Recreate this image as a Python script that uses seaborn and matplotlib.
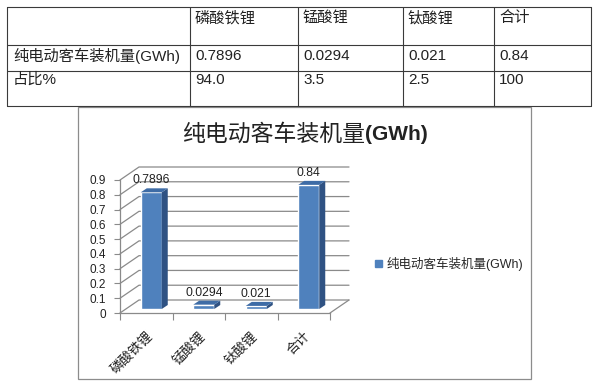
import numpy as np
import pandas as pd
import seaborn as sns
import matplotlib.pyplot as plt
import matplotlib.transforms as mtransforms
from matplotlib.lines import Line2D
from matplotlib.patches import Polygon, Rectangle, Patch

# data
categories = ['磷酸铁锂', '锰酸锂', '钛酸锂', '合计']
capacity = [0.7896, 0.0294, 0.021, 0.84]
share_labels = ['94.0', '3.5', '2.5', '100']
series_name = '纯电动客车装机量(GWh)'
row_names = ['纯电动客车装机量(GWh)', '占比%']
title_main = '纯电动客车装机量'
title_unit = '(GWh)'
yticks = [0, 0.1, 0.2, 0.3, 0.4, 0.5, 0.6, 0.7, 0.8, 0.9]

W, H = 600, 386
FRONT = '#4f81bd'
SIDE = '#2f5283'
TOP = '#3e6ca6'
GRID = '#8a8a8a'

sns.set_theme(style='white')
plt.rcParams['font.family'] = ['Liberation Sans', 'Noto Sans CJK SC']


def fy(y):
    return 1 - y / H


fig = plt.figure(figsize=(6, 3.86), dpi=100)

# ---- table at the top ----
col_x = [7, 190, 298, 403, 494, 591]
row_y = [7, 45, 71, 106]
for y in row_y:
    fig.add_artist(Line2D([col_x[0] / W, col_x[-1] / W], [fy(y), fy(y)],
                          transform=fig.transFigure, color='#3a3a3a', lw=0.8))
for x in col_x:
    fig.add_artist(Line2D([x / W, x / W], [fy(row_y[0]), fy(row_y[-1])],
                          transform=fig.transFigure, color='#3a3a3a', lw=0.8))

text_y = [18, 56, 80]
tkw = dict(fontsize=11, va='center', ha='left', color='#222222')
for i, c in enumerate(categories):
    fig.text((col_x[i + 1] + 5) / W, fy(text_y[0]), c, **tkw)
    fig.text((col_x[i + 1] + 5) / W, fy(text_y[1]), f"{capacity[i]:g}", **tkw)
    fig.text((col_x[i + 1] + 5) / W, fy(text_y[2]), share_labels[i], **tkw)
fig.text(13 / W, fy(text_y[1]), row_names[0], **tkw)
fig.text(13 / W, fy(text_y[2]), row_names[1], **tkw)

# ---- chart frame ----
fig.add_artist(Rectangle((78 / W, fy(379)), (531 - 78) / W, (379 - 107) / H,
                         transform=fig.transFigure, fill=False,
                         edgecolor='#8c8c8c', lw=0.9))

fig.text(365 / W, fy(134), title_main, ha='right', va='center', fontsize=16.5,
         color='#222222')
fig.text(365 / W, fy(134), title_unit, ha='left', va='center', fontsize=15,
         weight='bold', color='#222222')

# ---- bar chart with a pseudo-3D look ----
ax = fig.add_axes([120 / W, fy(313), 210 / W, 133 / H])
ax.patch.set_alpha(0)
df = pd.DataFrame({'cat': categories, 'val': capacity})
sns.barplot(data=df, x='cat', y='val', ax=ax, color=FRONT, saturation=1,
            width=0.4, errorbar=None, zorder=2)
ax.set_xlim(-0.5, len(categories) - 0.5)
ax.set_ylim(0, 0.9)
ax.set_xlabel('')
ax.set_ylabel('')

for s in ['top', 'right']:
    ax.spines[s].set_visible(False)
for s in ['left', 'bottom']:
    ax.spines[s].set_color(GRID)
    ax.spines[s].set_linewidth(0.9)

ax.set_yticks(yticks)
ax.set_yticklabels([f"{v:g}" for v in yticks], fontsize=8.5, color='#222222')
ax.tick_params(axis='y', left=True, length=4, width=0.8, color=GRID, pad=6)
ax.set_xticks(range(len(categories)))
ax.set_xticklabels(categories, rotation=45, ha='right', rotation_mode='anchor',
                   fontsize=9.5, color='#222222')
ax.set_xticks(np.arange(-0.5, len(categories)), minor=True)
ax.tick_params(axis='x', which='major', length=0, pad=12)
ax.tick_params(axis='x', which='minor', bottom=True, length=5, width=0.8,
               color=GRID)

ident = mtransforms.IdentityTransform()
dx, dy = 19, 13
x_lo, x_hi = ax.get_xlim()
for v in yticks:
    p0 = ax.transData.transform((x_lo, v))
    p1 = ax.transData.transform((x_hi, v))
    xs = [p0[0], p0[0] + dx, p1[0] + dx]
    ys = [p0[1], p0[1] + dy, p1[1] + dy]
    ax.add_line(Line2D(xs, ys, transform=ident, color=GRID, lw=0.9,
                       clip_on=False, zorder=0.5))
p1 = ax.transData.transform((x_hi, 0))
ax.add_line(Line2D([p1[0], p1[0] + dx], [p1[1], p1[1] + dy], transform=ident,
                   color=GRID, lw=0.9, clip_on=False, zorder=0.5))

bar_trans = mtransforms.offset_copy(ax.transData, fig=fig, x=5, y=4, units='dots')
bdx, bdy = 6, 4
for p, v in zip(ax.patches, capacity):
    p.set_transform(bar_trans)
    p.set_clip_on(False)
    x0, w, h = p.get_x(), p.get_width(), p.get_height()
    b = bar_trans.transform((x0 + w, 0))
    c = bar_trans.transform((x0 + w, h))
    d = bar_trans.transform((x0, h))
    side = [b, c, c + (bdx, bdy), b + (bdx, bdy)]
    top = [d, c, c + (bdx, bdy), d + (bdx, bdy)]
    ax.add_patch(Polygon(side, closed=True, transform=ident, facecolor=SIDE,
                         edgecolor='none', clip_on=False, zorder=2.1))
    ax.add_patch(Polygon(top, closed=True, transform=ident, facecolor=TOP,
                         edgecolor='none', clip_on=False, zorder=2.1))
    ax.annotate(f"{v:g}", xy=(x0 + w / 2, h), xycoords=bar_trans,
                xytext=(0, 6), textcoords='offset pixels', ha='center',
                va='bottom', fontsize=8.8, color='#222222')

fig.legend(handles=[Patch(color=FRONT)], labels=[series_name],
           loc='center left', bbox_to_anchor=(375 / W, fy(264)),
           frameon=False, fontsize=9, handlelength=0.55, handleheight=0.55,
           handletextpad=0.35, borderpad=0, borderaxespad=0)

fig.savefig('out.png', dpi=100, facecolor='white')
